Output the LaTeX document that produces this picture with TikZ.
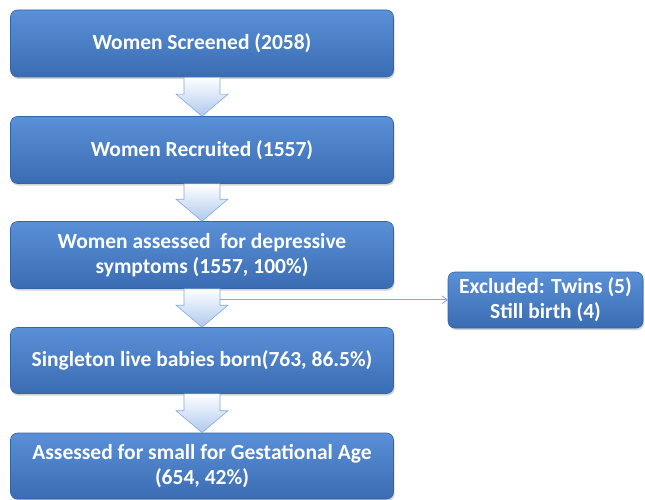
\documentclass[tikz,border=0pt]{standalone}
\usepackage{fontspec}
\setmainfont{Carlito}
\usetikzlibrary{arrows.meta,shadows}
\definecolor{boxtop}{HTML}{5A90D8}
\definecolor{boxbot}{HTML}{3A6CB2}
\definecolor{boxline}{HTML}{3464A8}
\definecolor{arrbot}{HTML}{AFC9EE}
\definecolor{arrline}{HTML}{84A8DC}
\tikzset{
  stepbox/.style={rectangle, rounded corners=7pt, top color=boxtop, bottom color=boxbot, draw=boxline, line width=0.6pt,
    text=white, font=\fontsize{21.5}{25}\selectfont\bfseries, align=center, inner sep=2pt,
    drop shadow={opacity=0.35, shadow xshift=1pt, shadow yshift=-2pt}},
  blockarrow/.style={top color=white, bottom color=arrbot, draw=arrline, line width=0.6pt}
}
\newcommand{\blockdown}[2]{%
  \path[blockarrow] ([xshift=-18pt]#1.south) -- ([xshift=-18pt,yshift=22pt]#2.north) -- ([xshift=-26pt,yshift=22pt]#2.north)
    -- (#2.north) -- ([xshift=26pt,yshift=22pt]#2.north) -- ([xshift=18pt,yshift=22pt]#2.north) -- ([xshift=18pt]#1.south) -- cycle;}
\begin{document}
\begin{tikzpicture}[x=1pt,y=-1pt]
\useasboundingbox (0,0) rectangle (645,500);
\node[stepbox, minimum width=383pt, minimum height=67pt] (s1) at (202,43.5) {Women Screened (2058)};
\node[stepbox, minimum width=383pt, minimum height=67pt] (s2) at (202,150) {Women Recruited (1557)};
\node[stepbox, minimum width=383pt, minimum height=67pt] (s3) at (202,255) {Women assessed\ \ for depressive\\symptoms (1557, 100\%)};
\node[stepbox, minimum width=383pt, minimum height=66pt] (s4) at (202,360.5) {Singleton live babies born(763, 86.5\%)};
\node[stepbox, minimum width=383pt, minimum height=66pt] (s5) at (202,466) {Assessed for small for Gestational Age\\(654, 42\%)};
\node[stepbox, minimum width=195pt, minimum height=56pt] (ex) at (545.5,300) {Excluded: Twins (5)\\Still birth (4)};

\blockdown{s1}{s2}
\blockdown{s2}{s3}
\blockdown{s3}{s4}
\blockdown{s4}{s5}

\coordinate (tap) at ([xshift=18pt,yshift=-11pt]s3.south);
\draw[arrline, line width=0.8pt, -{Straight Barb[length=5pt,width=8pt]}] (tap) -- (tap -| ex.west);
\end{tikzpicture}
\end{document}
